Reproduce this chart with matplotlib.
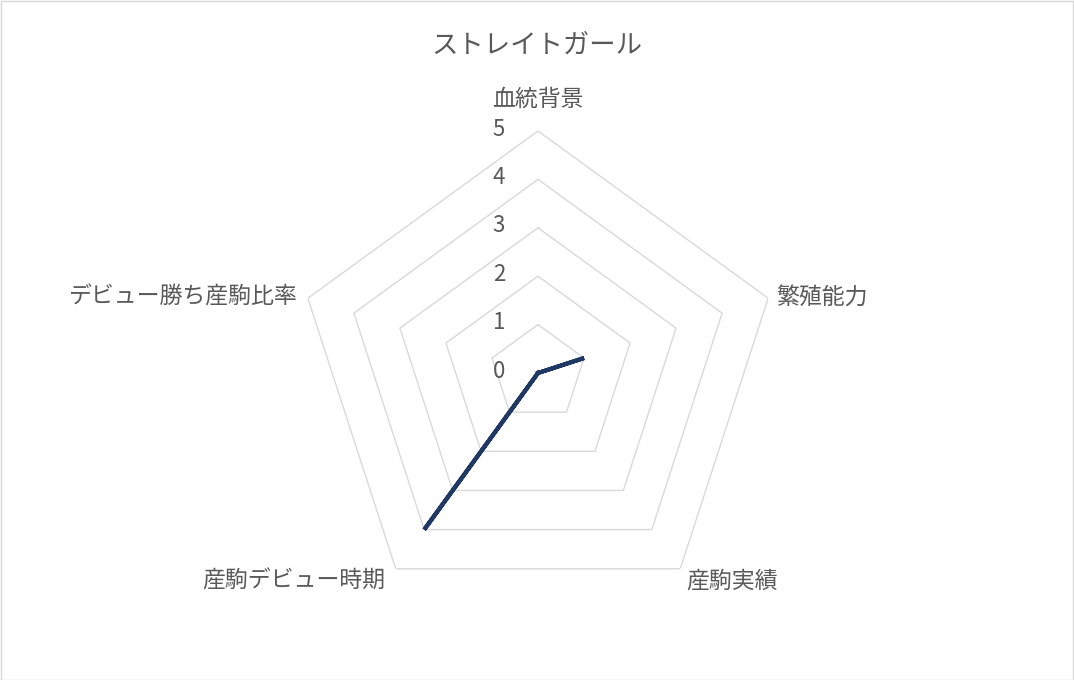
import numpy as np
import matplotlib
matplotlib.use("Agg")
import matplotlib.pyplot as plt
from matplotlib.patches import Rectangle

plt.rcParams['font.family'] = ['Noto Sans CJK JP', 'DejaVu Sans']

title = "ストレイトガール"
categories = ["血統背景", "繁殖能力", "産駒実績", "産駒デビュー時期", "デビュー勝ち産駒比率"]
values = [0, 1, 0, 4, 0]
ring_levels = [1, 2, 3, 4, 5]
tick_labels = ["0", "1", "2", "3", "4", "5"]

W, H = 1074, 680
fig = plt.figure(figsize=(W / 100, H / 100), dpi=100)
cx, cy, R = 538, 373, 242
ax = fig.add_axes([(cx - R) / W, (H - cy - R) / H, 2 * R / W, 2 * R / H], projection='polar')
ax.set_theta_offset(np.pi / 2)
ax.set_theta_direction(-1)
ax.set_ylim(0, 5)
ax.grid(False)
ax.spines['polar'].set_visible(False)
ax.set_xticks([])
ax.set_yticks([])
ax.patch.set_alpha(0)

n = len(categories)
angles = np.arange(n) * 2 * np.pi / n
closed = np.append(angles, angles[0])

grid_color = '#d9d9d9'
for lv in ring_levels:
    ax.plot(closed, [lv] * (n + 1), color=grid_color, lw=1.0, zorder=1)

vals = list(values) + [values[0]]
ax.plot(closed, vals, color='#203864', lw=3.0, zorder=3, solid_joinstyle='miter')

txt_color = '#595959'
for i, lab in enumerate(tick_labels):
    ax.annotate(lab, xy=(0, i), xytext=(-33, 2), textcoords='offset pixels',
                ha='right', va='center', fontsize=16, color=txt_color)

offsets = [((0, 32), 'center', 'center'),
           ((8, 1), 'left', 'center'),
           ((6, -12), 'left', 'center'),
           ((-10, -12), 'right', 'center'),
           ((-11, 1), 'right', 'center')]
for ang, lab, (off, ha, va) in zip(angles, categories, offsets):
    ax.annotate(lab, xy=(ang, 5), xytext=off, textcoords='offset pixels',
                ha=ha, va=va, fontsize=16.5, color=txt_color)

fig.text(537 / W, 1 - 45 / H, title, ha='center', va='center', fontsize=19, color=txt_color)

fig.patches.append(Rectangle((0.5 / W, 0.5 / H), 1 - 1.5 / W, 1 - 1.5 / H, transform=fig.transFigure,
                             fill=False, edgecolor=grid_color, lw=1.0))

fig.savefig('out.png', dpi=100, facecolor='white')
